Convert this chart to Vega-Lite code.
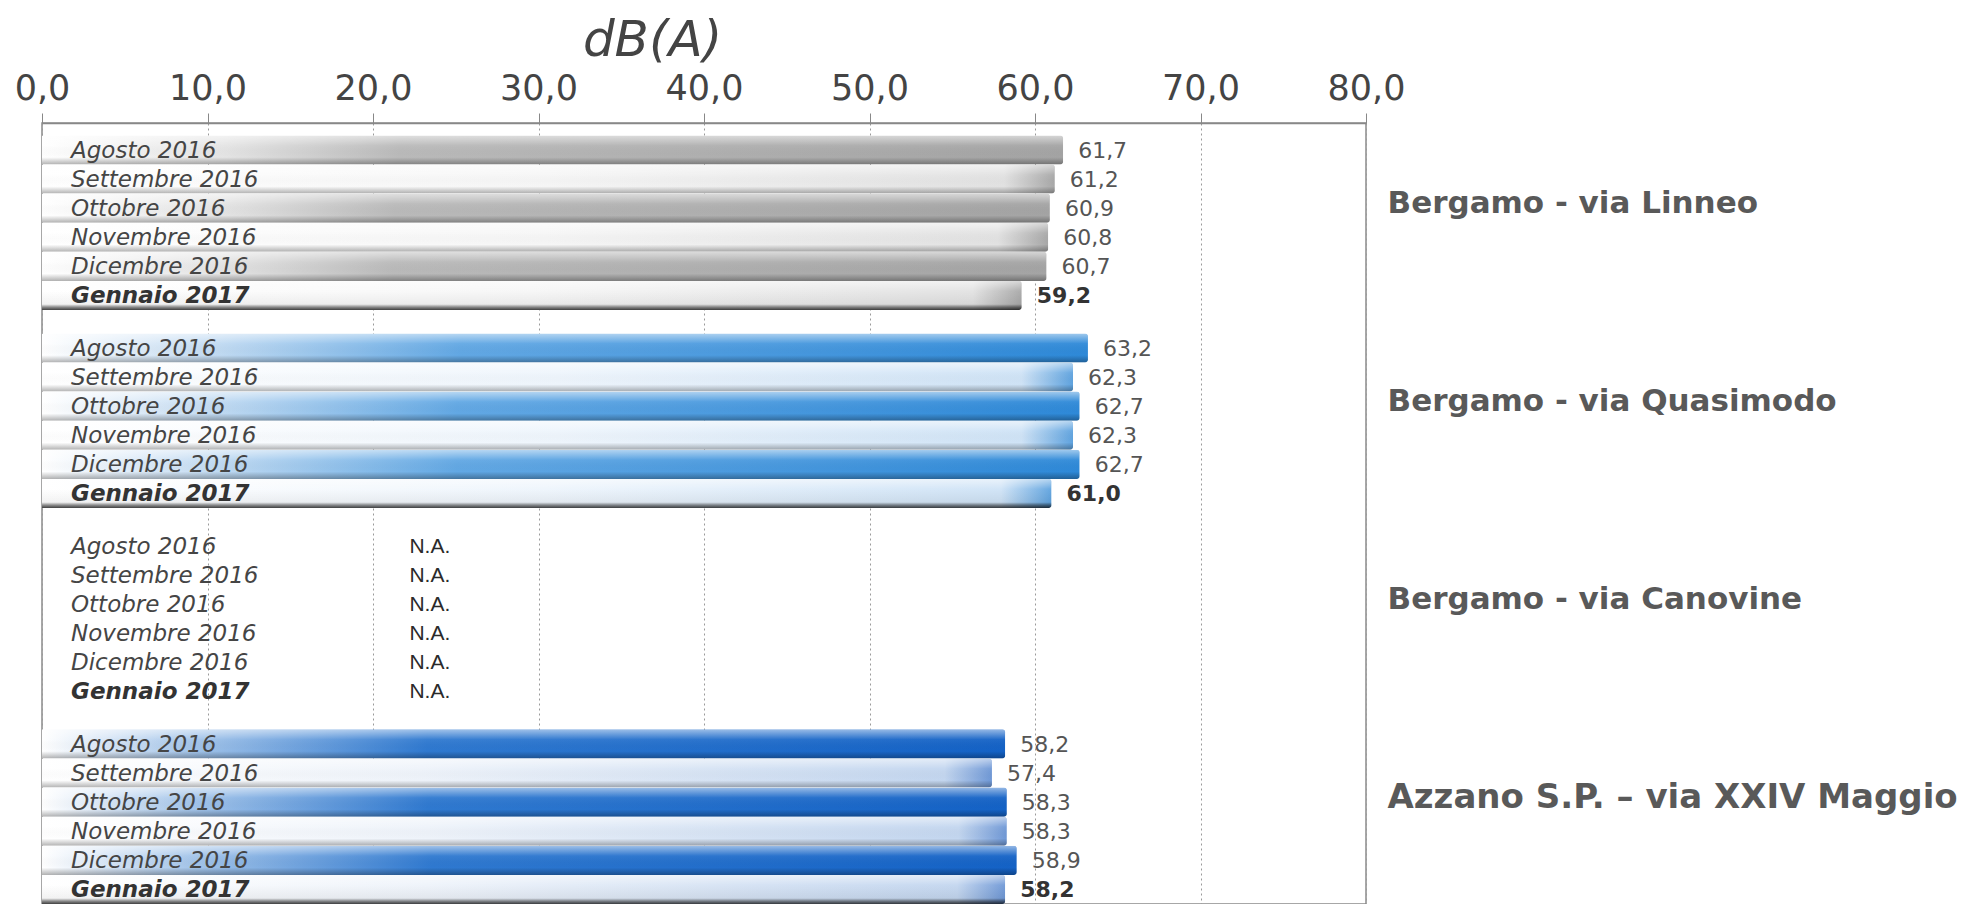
{
  "$schema": "https://vega.github.io/schema/vega-lite/v6.json",
  "width": 1324,
  "height": 781,
  "autosize": {"type": "none"},
  "padding": {"left": 42, "top": 123, "right": 599, "bottom": 0},
  "background": "white",
  "config": {
    "locale": {"number": {"decimal": ",", "thousands": ".", "grouping": [3], "currency": ["", " €"]}},
    "view": {"stroke": "#8a8a8a", "strokeWidth": 1.5},
    "font": "DejaVu Sans"
  },
  "data": {
    "values": [
      {"station": "Bergamo - via Linneo", "month": "Agosto 2016", "value": 61.7},
      {"station": "Bergamo - via Linneo", "month": "Settembre 2016", "value": 61.2},
      {"station": "Bergamo - via Linneo", "month": "Ottobre 2016", "value": 60.9},
      {"station": "Bergamo - via Linneo", "month": "Novembre 2016", "value": 60.8},
      {"station": "Bergamo - via Linneo", "month": "Dicembre 2016", "value": 60.7},
      {"station": "Bergamo - via Linneo", "month": "Gennaio 2017", "value": 59.2},
      {"station": "Bergamo - via Quasimodo", "month": "Agosto 2016", "value": 63.2},
      {"station": "Bergamo - via Quasimodo", "month": "Settembre 2016", "value": 62.3},
      {"station": "Bergamo - via Quasimodo", "month": "Ottobre 2016", "value": 62.7},
      {"station": "Bergamo - via Quasimodo", "month": "Novembre 2016", "value": 62.3},
      {"station": "Bergamo - via Quasimodo", "month": "Dicembre 2016", "value": 62.7},
      {"station": "Bergamo - via Quasimodo", "month": "Gennaio 2017", "value": 61.0},
      {"station": "Bergamo - via Canovine", "month": "Agosto 2016", "value": null},
      {"station": "Bergamo - via Canovine", "month": "Settembre 2016", "value": null},
      {"station": "Bergamo - via Canovine", "month": "Ottobre 2016", "value": null},
      {"station": "Bergamo - via Canovine", "month": "Novembre 2016", "value": null},
      {"station": "Bergamo - via Canovine", "month": "Dicembre 2016", "value": null},
      {"station": "Bergamo - via Canovine", "month": "Gennaio 2017", "value": null},
      {"station": "Azzano S.P. – via XXIV Maggio", "month": "Agosto 2016", "value": 58.2},
      {"station": "Azzano S.P. – via XXIV Maggio", "month": "Settembre 2016", "value": 57.4},
      {"station": "Azzano S.P. – via XXIV Maggio", "month": "Ottobre 2016", "value": 58.3},
      {"station": "Azzano S.P. – via XXIV Maggio", "month": "Novembre 2016", "value": 58.3},
      {"station": "Azzano S.P. – via XXIV Maggio", "month": "Dicembre 2016", "value": 58.9},
      {"station": "Azzano S.P. – via XXIV Maggio", "month": "Gennaio 2017", "value": 58.2}
    ]
  },
  "encoding": {
    "y": {
      "field": "station", "type": "nominal", "sort": null,
      "scale": {"domain": ["Bergamo - via Linneo", "Bergamo - via Quasimodo", "Bergamo - via Canovine", "Azzano S.P. – via XXIV Maggio"], "paddingInner": 0.118, "paddingOuter": 0.0313, "align": 1},
      "axis": {"orient": "right", "title": null, "ticks": false, "tickSize": 0, "domain": false, "grid": false, "labelPadding": 21, "labelOffset": -19, "labelFont": "DejaVu Sans", "labelFontWeight": "bold", "labelFontSize": {"condition": {"test": "indexof(datum.label, 'Azzano') >= 0", "value": 34}, "value": 31}, "labelColor": "#595959", "labelLimit": 0, "labelAlign": "left", "labelBaseline": "middle"}
    },
    "yOffset": {
      "field": "month", "type": "nominal", "sort": null,
      "scale": {"domain": ["Agosto 2016", "Settembre 2016", "Ottobre 2016", "Novembre 2016", "Dicembre 2016", "Gennaio 2017"], "paddingInner": 0, "paddingOuter": 0}
    }
  },
  "layer": [
    {
      "transform": [{"filter": "datum.station === 'Bergamo - via Linneo' && indexof(['Agosto 2016','Ottobre 2016','Dicembre 2016'], datum.month) >= 0"}],
      "mark": {"type": "bar", "cornerRadiusEnd": 3, "fill": {"gradient": "linear", "x1": 0, "y1": 0, "x2": 1, "y2": 0, "stops": [{"offset": 0, "color": "#ffffff"}, {"offset": 0.18, "color": "#e4e4e4"}, {"offset": 0.35, "color": "#bababa"}, {"offset": 1, "color": "#a4a4a4"}]}},
      "encoding": {
        "x": {
          "field": "value", "type": "quantitative",
          "scale": {"domain": [0, 80], "nice": false, "zero": true},
          "axis": {"orient": "top", "values": [0, 10, 20, 30, 40, 50, 60, 70, 80], "format": ".1f", "labelFont": "DejaVu Sans", "labelFontSize": 35, "labelColor": "#444444", "labelPadding": 14, "labelBaseline": "alphabetic", "labelFlush": false, "labelOverlap": false, "tickSize": 10, "tickColor": "#888888", "domainColor": "#888888", "domainWidth": 1.5, "grid": true, "gridDash": [2, 3], "gridColor": "#9a9a9a", "gridWidth": 1, "title": "dB(A)", "titleFont": "DejaVu Sans", "titleFontStyle": "italic", "titleFontWeight": "normal", "titleFontSize": 50, "titleColor": "#444444", "titleX": 610, "titleY": -68, "titleBaseline": "alphabetic", "titleAlign": "center"}
        }
      }
    },
    {
      "transform": [{"filter": "datum.station === 'Bergamo - via Linneo' && indexof(['Agosto 2016','Ottobre 2016','Dicembre 2016'], datum.month) < 0"}],
      "mark": {"type": "bar", "cornerRadiusEnd": 3, "fill": {"gradient": "linear", "x1": 0, "y1": 0, "x2": 1, "y2": 0, "stops": [{"offset": 0, "color": "#ffffff"}, {"offset": 0.5, "color": "#f6f6f6"}, {"offset": 0.95, "color": "#e2e2e2"}, {"offset": 1, "color": "#a8a8a8"}]}},
      "encoding": {"x": {"field": "value", "type": "quantitative"}}
    },
    {
      "transform": [{"filter": "datum.station === 'Bergamo - via Quasimodo' && indexof(['Agosto 2016','Ottobre 2016','Dicembre 2016'], datum.month) >= 0"}],
      "mark": {"type": "bar", "cornerRadiusEnd": 3, "fill": {"gradient": "linear", "x1": 0, "y1": 0, "x2": 1, "y2": 0, "stops": [{"offset": 0, "color": "#ffffff"}, {"offset": 0.15, "color": "#c8def3"}, {"offset": 0.4, "color": "#62a8e4"}, {"offset": 1, "color": "#2e89d8"}]}},
      "encoding": {"x": {"field": "value", "type": "quantitative"}}
    },
    {
      "transform": [{"filter": "datum.station === 'Bergamo - via Quasimodo' && indexof(['Agosto 2016','Ottobre 2016','Dicembre 2016'], datum.month) < 0"}],
      "mark": {"type": "bar", "cornerRadiusEnd": 3, "fill": {"gradient": "linear", "x1": 0, "y1": 0, "x2": 1, "y2": 0, "stops": [{"offset": 0, "color": "#ffffff"}, {"offset": 0.5, "color": "#eef5fc"}, {"offset": 0.95, "color": "#cfe3f6"}, {"offset": 1, "color": "#5fa3df"}]}},
      "encoding": {"x": {"field": "value", "type": "quantitative"}}
    },
    {
      "transform": [{"filter": "datum.station === 'Azzano S.P. – via XXIV Maggio' && indexof(['Agosto 2016','Ottobre 2016','Dicembre 2016'], datum.month) >= 0"}],
      "mark": {"type": "bar", "cornerRadiusEnd": 3, "fill": {"gradient": "linear", "x1": 0, "y1": 0, "x2": 1, "y2": 0, "stops": [{"offset": 0, "color": "#ffffff"}, {"offset": 0.15, "color": "#a6c6ea"}, {"offset": 0.4, "color": "#2f79d0"}, {"offset": 1, "color": "#1462c6"}]}},
      "encoding": {"x": {"field": "value", "type": "quantitative"}}
    },
    {
      "transform": [{"filter": "datum.station === 'Azzano S.P. – via XXIV Maggio' && indexof(['Agosto 2016','Ottobre 2016','Dicembre 2016'], datum.month) < 0"}],
      "mark": {"type": "bar", "cornerRadiusEnd": 3, "fill": {"gradient": "linear", "x1": 0, "y1": 0, "x2": 1, "y2": 0, "stops": [{"offset": 0, "color": "#ffffff"}, {"offset": 0.4, "color": "#eef3fa"}, {"offset": 0.95, "color": "#c3d6ef"}, {"offset": 1, "color": "#6f98d6"}]}},
      "encoding": {"x": {"field": "value", "type": "quantitative"}}
    },
    {
      "transform": [{"filter": "datum.value != null && datum.month !== 'Gennaio 2017'"}],
      "mark": {"type": "bar", "cornerRadiusEnd": 3, "fill": {"gradient": "linear", "x1": 0, "y1": 0, "x2": 0, "y2": 1, "stops": [{"offset": 0, "color": "rgba(255,255,255,0.55)"}, {"offset": 0.35, "color": "rgba(255,255,255,0.05)"}, {"offset": 0.75, "color": "rgba(0,0,0,0)"}, {"offset": 1, "color": "rgba(0,0,0,0.3)"}]}},
      "encoding": {"x": {"field": "value", "type": "quantitative"}}
    },
    {
      "transform": [{"filter": "datum.value != null && datum.month === 'Gennaio 2017'"}],
      "mark": {"type": "bar", "cornerRadiusEnd": 3, "fill": {"gradient": "linear", "x1": 0, "y1": 0, "x2": 0, "y2": 1, "stops": [{"offset": 0, "color": "rgba(255,255,255,0.55)"}, {"offset": 0.35, "color": "rgba(255,255,255,0.05)"}, {"offset": 0.8, "color": "rgba(0,0,0,0.05)"}, {"offset": 0.9, "color": "rgba(0,0,0,0.45)"}, {"offset": 1, "color": "rgba(0,0,0,0.75)"}]}},
      "encoding": {"x": {"field": "value", "type": "quantitative"}}
    },
    {
      "transform": [{"filter": "datum.month !== 'Gennaio 2017'"}],
      "mark": {"type": "text", "align": "left", "baseline": "middle", "dx": 29, "dy": 1, "font": "DejaVu Sans", "fontStyle": "italic", "fontSize": 23, "color": "#454545"},
      "encoding": {"x": {"datum": 0}, "text": {"field": "month"}}
    },
    {
      "transform": [{"filter": "datum.month === 'Gennaio 2017'"}],
      "mark": {"type": "text", "align": "left", "baseline": "middle", "dx": 29, "dy": 1, "font": "DejaVu Sans", "fontStyle": "italic", "fontWeight": "bold", "fontSize": 23, "color": "#333333"},
      "encoding": {"x": {"datum": 0}, "text": {"field": "month"}}
    },
    {
      "transform": [{"filter": "datum.value != null && datum.month !== 'Gennaio 2017'"}],
      "mark": {"type": "text", "align": "left", "baseline": "middle", "dx": 15, "dy": 1, "font": "DejaVu Sans", "fontSize": 22, "color": "#555555"},
      "encoding": {"x": {"field": "value", "type": "quantitative"}, "text": {"field": "value", "type": "quantitative", "format": ".1f"}}
    },
    {
      "transform": [{"filter": "datum.value != null && datum.month === 'Gennaio 2017'"}],
      "mark": {"type": "text", "align": "left", "baseline": "middle", "dx": 15, "dy": 1, "font": "DejaVu Sans", "fontWeight": "bold", "fontSize": 22, "color": "#333333"},
      "encoding": {"x": {"field": "value", "type": "quantitative"}, "text": {"field": "value", "type": "quantitative", "format": ".1f"}}
    },
    {
      "transform": [{"filter": "datum.value == null"}],
      "mark": {"type": "text", "align": "left", "baseline": "middle", "dy": 1, "font": "Liberation Sans", "fontSize": 21, "color": "#2a2a2a"},
      "encoding": {"x": {"datum": 22.2}, "text": {"value": "N.A."}}
    }
  ]
}
